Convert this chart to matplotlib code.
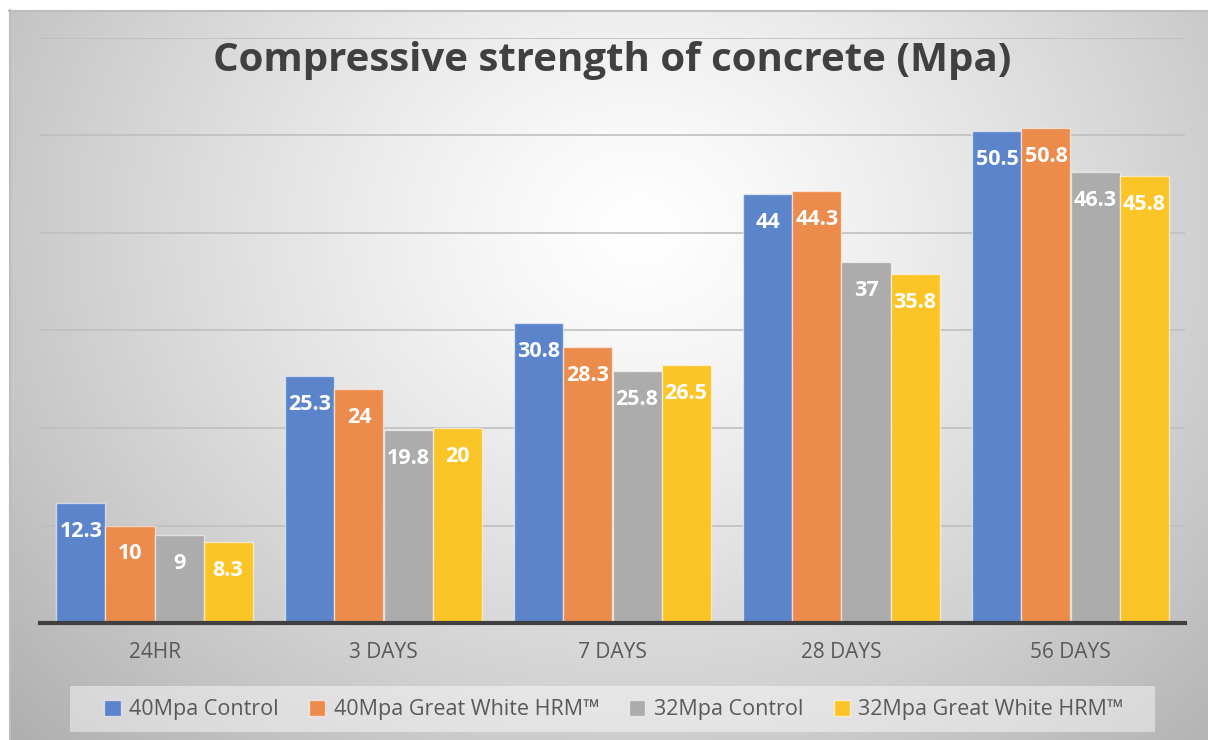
import numpy as np
import matplotlib
matplotlib.use("Agg")
import matplotlib.pyplot as plt
from matplotlib.patches import Rectangle

plt.rcParams['font.family'] = ['Open Sans', 'DejaVu Sans']

categories = ["24HR", "3 DAYS", "7 DAYS", "28 DAYS", "56 DAYS"]
series_names = ["40Mpa Control", "40Mpa Great White HRM\u2122",
                "32Mpa Control", "32Mpa Great White HRM\u2122"]
ctrl_40 = [12.3, 25.3, 30.8, 44, 50.5]
hrm_40 = [10, 24, 28.3, 44.3, 50.8]
ctrl_32 = [9, 19.8, 25.8, 37, 46.3]
hrm_32 = [8.3, 20, 26.5, 35.8, 45.8]
series_values = [ctrl_40, hrm_40, ctrl_32, hrm_32]
colors = ["#5b84ca", "#ec8c4c", "#acacac", "#fcc527"]
title = "Compressive strength of concrete (Mpa)"

W, H = 1208, 740
fig = plt.figure(figsize=(W / 100, H / 100), dpi=100)
fig.patch.set_facecolor("white")

# background panel with soft radial shading
bg = fig.add_axes([0, 0, 1, 1], zorder=-10)
bg.set_xlim(0, W)
bg.set_ylim(H, 0)
bg.axis("off")
px0, py0 = 9, 10
xs = np.linspace(px0, W, 600)
ys = np.linspace(py0, H, 400)
X, Y = np.meshgrid(xs, ys)
d = np.sqrt(((X - 640) / 720) ** 2 + ((Y - 230) / 620) ** 2)
v = 1 - 0.25 * np.clip(d, 0, 1.2) ** 1.25
img = np.dstack([v, v, v])
bg.imshow(img, extent=[px0, W, H, py0], aspect="auto", interpolation="bilinear")
bg.plot([px0 + 0.5, px0 + 0.5], [H, py0], color="#bdbdbd", lw=1.5)
bg.plot([px0, W], [py0 + 0.5, py0 + 0.5], color="#bdbdbd", lw=1.5)
# legend backing panel
bg.add_patch(Rectangle((70, 686), 1155 - 70, 732 - 686,
                       facecolor=(1, 1, 1, 0.45), edgecolor="none"))

# main plot area
left, right = 40 / W, 1185 / W
bottom, top = (H - 623) / H, (H - 38) / H
ax = fig.add_axes([left, bottom, right - left, top - bottom])
ax.patch.set_alpha(0)
ax.set_xlim(-0.5, len(categories) - 0.5)
ax.set_ylim(0, 60)

n = len(series_values)
bw = 0.214
x = np.arange(len(categories))
bars_all = []
for i, (vals, c, name) in enumerate(zip(series_values, colors, series_names)):
    pos = x + (i - (n - 1) / 2) * bw
    bars = ax.bar(pos, vals, width=bw, color=c, edgecolor=(1, 1, 1, 0.55),
                  linewidth=1.0, label=name, zorder=3)
    bars_all.append(bars)
    for xp, val in zip(pos, vals):
        ax.annotate(f"{val:g}", (xp, val), xytext=(0, -20.5), textcoords="offset points",
                    ha="center", va="center", color="white", fontsize=15.5,
                    fontweight="bold", zorder=4)

ax.set_yticks([10, 20, 30, 40, 50, 60])
ax.yaxis.grid(True, color="#bfbfbf", lw=1.2, zorder=0)
ax.tick_params(axis="y", left=False, labelleft=False)
ax.set_xticks(x)
ax.set_xticklabels(categories, fontsize=15, color="#595959")
ax.tick_params(axis="x", length=0, pad=14)
for s in ["top", "right", "left"]:
    ax.spines[s].set_visible(False)
ax.spines["bottom"].set_color("#404040")
ax.spines["bottom"].set_linewidth(3)
ax.spines["bottom"].set_zorder(5)

fig.text(612 / W, 1 - 61 / H, title, ha="center", va="center",
         fontsize=29, fontweight="bold", color="#404040")

leg = ax.legend(handles=bars_all, labels=series_names, ncol=4,
                loc="center", bbox_to_anchor=(614 / W, 1 - 710 / H),
                bbox_transform=fig.transFigure, fontsize=15.5,
                handlelength=0.75, handleheight=0.75, handletextpad=0.4,
                columnspacing=1.4, frameon=False)
for t in leg.get_texts():
    t.set_color("#595959")

fig.savefig("out.png", dpi=100, facecolor=fig.get_facecolor())
